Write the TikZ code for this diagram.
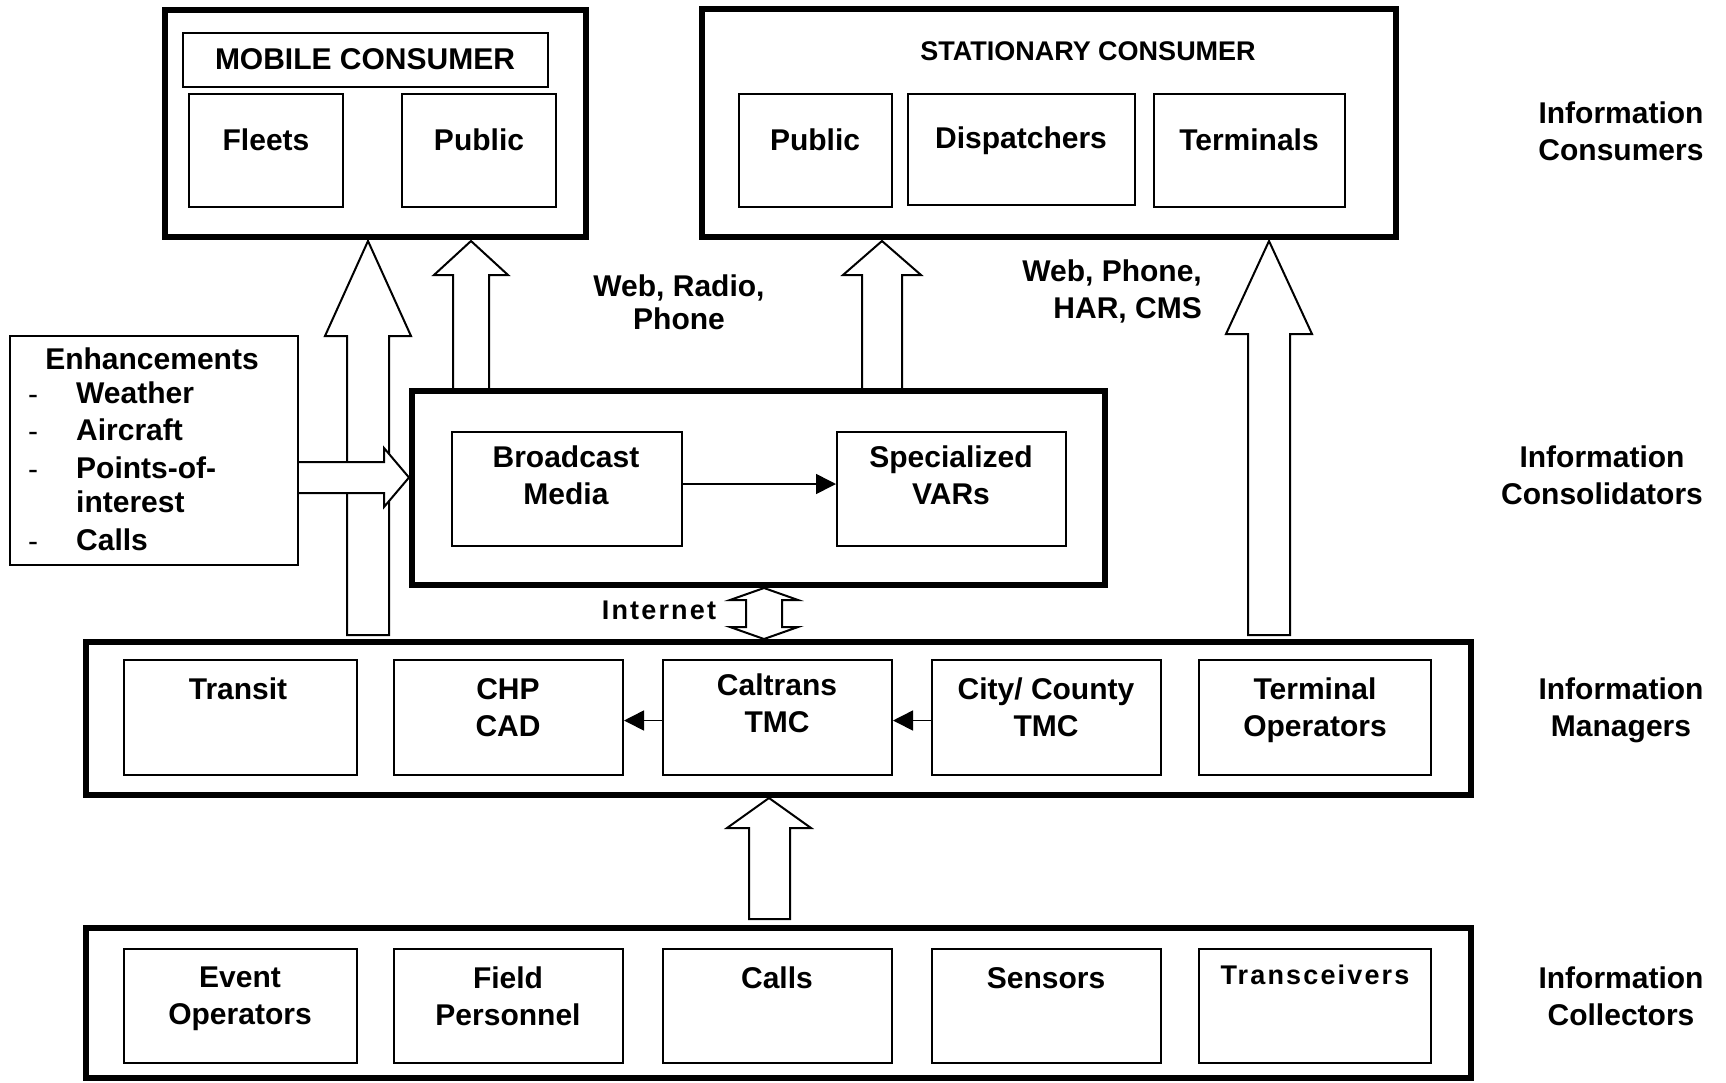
\documentclass[tikz,border=0pt]{standalone}
\usepackage{fontspec}
\setmainfont{Liberation Sans}
\usetikzlibrary{arrows.meta,calc}
\begin{document}
\begin{tikzpicture}[x=1pt,y=-1pt,
  thickbox/.style={draw, line width=6pt, inner sep=0pt},
  thinbox/.style={draw, line width=2pt, inner sep=0pt},
  blockarrow/.style={draw, line width=2pt, fill=white, line join=miter},
  txt/.style={font=\fontsize{30}{37}\selectfont\bfseries, align=center, inner sep=0pt},
  smalltxt/.style={font=\fontsize{27}{32}\selectfont\bfseries, align=center, inner sep=0pt},
  spacedtxt/.style={font=\fontsize{27}{32}\selectfont\bfseries\addfontfeature{LetterSpace=8}, align=center, inner sep=0pt},
  conn/.style={line width=1.6pt, -{Triangle[length=20pt,width=20pt]}}
]
\useasboundingbox (0,0) rectangle (1726,1082);

% ---- block arrows (behind) ----
\draw[blockarrow] (347,635) -- (347,336) -- (325,336) -- (368,241) -- (411,336) -- (389,336) -- (389,635) -- cycle;
\draw[blockarrow] (453,391) -- (453,275) -- (434,275) -- (471,241) -- (508,275) -- (489,275) -- (489,391) -- cycle;
\draw[blockarrow] (862,391) -- (862,275) -- (843,275) -- (882,241) -- (921,275) -- (902,275) -- (902,391) -- cycle;
\draw[blockarrow] (1248,635) -- (1248,334) -- (1226,334) -- (1269,241) -- (1312,334) -- (1290,334) -- (1290,635) -- cycle;
\draw[blockarrow] (749,919) -- (749,828) -- (727,828) -- (769,798) -- (811,828) -- (790,828) -- (790,919) -- cycle;
\draw[blockarrow] (298,462) -- (384,462) -- (384,448) -- (409,477.5) -- (384,507) -- (384,493) -- (298,493);
\draw[blockarrow] (764,588) -- (798,600) -- (782,600) -- (782,627) -- (798,627) -- (764,639) -- (730,627) -- (746,627) -- (746,600) -- (730,600) -- cycle;

% ---- consumers ----
\node[thickbox, minimum width=421pt, minimum height=227pt] (mobile) at (375.5,123.5) {};
\node[thinbox, minimum width=365pt, minimum height=54pt] (mobtitle) at (365.5,60) {};
\node[txt] (mobtitletxt) at (365,59) {MOBILE CONSUMER};
\node[thinbox, minimum width=154pt, minimum height=113pt] (fleets) at (266,150.5) {};
\node[txt] (fleetstxt) at (266,140) {Fleets};
\node[thinbox, minimum width=154pt, minimum height=113pt] (mpublic) at (479,150.5) {};
\node[txt] (mpublictxt) at (479,140) {Public};

\node[thickbox, minimum width=694pt, minimum height=228pt] (stationary) at (1049,123) {};
\node[smalltxt] (stattitle) at (1088,51) {STATIONARY CONSUMER};
\node[thinbox, minimum width=153pt, minimum height=113pt] (spublic) at (815.5,150.5) {};
\node[txt] (spublictxt) at (815,140) {Public};
\node[thinbox, minimum width=227pt, minimum height=111pt] (disp) at (1021.5,149.5) {};
\node[txt] (disptxt) at (1021,141) {Dispatchers};
\node[thinbox, minimum width=191pt, minimum height=113pt] (term) at (1249.5,150.5) {};
\node[txt] (termtxt) at (1249,140) {Terminals};

% ---- labels ----
\node[txt, font=\fontsize{30}{33}\selectfont\bfseries] (webradio) at (679,302) {Web, Radio,\\Phone};
\node[txt, align=right, anchor=east] (webphone) at (1202,291) {Web, Phone,\\HAR, CMS};
\node[txt] (lcons) at (1621,131.5) {Information\\Consumers};
\node[txt] (lconsol) at (1602,475) {Information\\Consolidators};
\node[txt] (lman) at (1621,710) {Information\\Managers};
\node[txt] (lcoll) at (1621,996) {Information\\Collectors};

% ---- enhancements ----
\node[thinbox, minimum width=288pt, minimum height=229pt] (enh) at (154,450.5) {};
\node[txt] (enhtitle) at (152,359) {Enhancements};
\foreach \yy/\tt/\dd in {393/Weather/1,430/Aircraft/1,468/Points-of-/1,502/interest/0,540/Calls/1}{
  \ifnum\dd=1 \node[inner sep=0pt, anchor=base, font=\fontsize{30}{30}\selectfont] at (33,\yy+11) {-};\fi
  \node[txt, anchor=west] at (76,\yy) {\tt};
}

% ---- consolidators ----
\node[thickbox, minimum width=693pt, minimum height=194pt] (consol) at (758.5,488) {};
\node[thinbox, minimum width=230pt, minimum height=114pt] (bcast) at (567,489) {};
\node[txt] (bcasttxt) at (566,475) {Broadcast\\Media};
\node[thinbox, minimum width=229pt, minimum height=114pt] (spec) at (951.5,489) {};
\node[txt] (spectxt) at (951,475) {Specialized\\VARs};
\draw[conn] ([yshift=5pt]bcast.east) -- ([yshift=5pt]spec.west);

\node[spacedtxt] (internet) at (659,610) {Internet};

% ---- managers ----
\node[thickbox, minimum width=1385pt, minimum height=153pt] (managers) at (778.5,718.5) {};
\node[thinbox, minimum width=233pt, minimum height=115pt] (transit) at (240.5,717.5) {};
\node[txt] at (238,689) {Transit};
\node[thinbox, minimum width=229pt, minimum height=115pt] (chp) at (508.5,717.5) {};
\node[txt] at (508,708) {CHP\\CAD};
\node[thinbox, minimum width=229pt, minimum height=115pt] (caltrans) at (777.5,717.5) {};
\node[txt] at (777,703) {Caltrans\\TMC};
\node[thinbox, minimum width=229pt, minimum height=115pt] (city) at (1046.5,717.5) {};
\node[txt] at (1046,707) {City/ County\\TMC};
\node[thinbox, minimum width=232pt, minimum height=115pt] (termop) at (1315,717.5) {};
\node[txt] at (1315,710) {Terminal\\Operators};
\draw[conn] ([yshift=-3pt]caltrans.west) -- ([yshift=-3pt]chp.east);
\draw[conn] ([yshift=-3pt]city.west) -- ([yshift=-3pt]caltrans.east);

% ---- collectors ----
\node[thickbox, minimum width=1385pt, minimum height=150pt] (collectors) at (778.5,1003) {};
\node[thinbox, minimum width=233pt, minimum height=114pt] (event) at (240.5,1006) {};
\node[txt] at (240,999) {Event\\Operators};
\node[thinbox, minimum width=229pt, minimum height=114pt] (field) at (508.5,1006) {};
\node[txt] at (508,996) {Field\\Personnel};
\node[thinbox, minimum width=229pt, minimum height=114pt] (calls) at (777.5,1006) {};
\node[txt] at (777,978) {Calls};
\node[thinbox, minimum width=229pt, minimum height=114pt] (sensors) at (1046.5,1006) {};
\node[txt] at (1046,978) {Sensors};
\node[thinbox, minimum width=232pt, minimum height=114pt] (transc) at (1315,1006) {};
\node[spacedtxt] at (1315,975) {Transceivers};
\end{tikzpicture}
\end{document}
